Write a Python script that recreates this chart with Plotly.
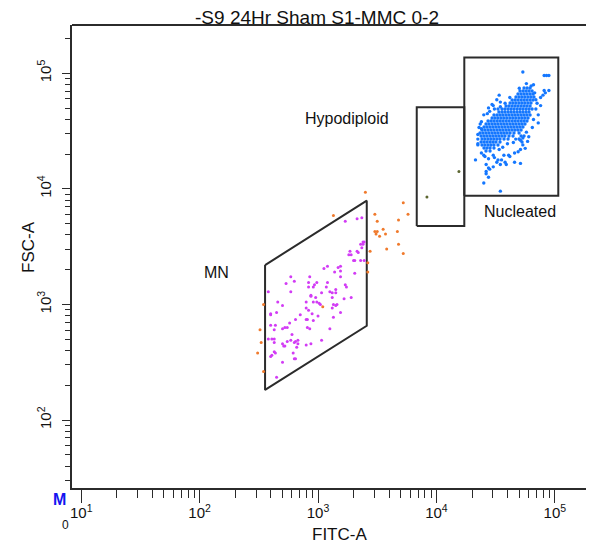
import plotly.graph_objects as go

# ---------------- data ----------------
TITLE = "-S9 24Hr Sham S1-MMC 0-2"
X_LABEL = "FITC-A"
Y_LABEL = "FSC-A"

# Gate vertices (FITC-A, FSC-A)
mn_gate_x = [357, 2580, 2580, 357, 357]
mn_gate_y = [2190, 7890, 654, 182, 2190]
hypo_gate_x = [6820, 17200, 17200, 6820, 6820]
hypo_gate_y = [4770, 4770, 50700, 50700, 4770]
nuc_gate_x = [17200, 107000, 107000, 17200, 17200]
nuc_gate_y = [8710, 8710, 137000, 137000, 8710]

gate_labels = ["Hypodiploid", "Nucleated", "MN"]

# Events, stored as log10 of the channel values
mn_log_x = [3.23, 3.33, 3.37, 3.38, 3.39, 3.36, 3.38, 3.37, 3.33, 3.34, 3.27, 3.26, 3.28, 3.30, 3.31,
            3.36, 3.39, 3.08, 3.17, 3.19, 3.14, 3.19, 3.05, 3.31, 3.19, 2.77, 2.80, 2.73, 2.93, 3.08,
            2.99, 2.97, 2.92, 2.96, 2.77, 3.07, 3.10, 3.15, 3.12, 3.23, 3.24, 2.58, 2.94, 2.94, 3.03,
            2.98, 3.12, 3.28, 3.22, 2.66, 2.70, 2.90, 2.96, 2.99, 3.01, 3.02, 3.13, 3.16, 3.15, 2.90,
            2.92, 3.12, 2.60, 2.60, 2.65, 2.85, 2.95, 3.00, 3.19, 2.81, 2.90, 2.91, 3.13, 2.60, 2.64,
            2.76, 2.91, 3.10, 2.63, 2.70, 2.72, 2.74, 2.78, 2.58, 2.61, 2.63, 2.63, 2.70, 2.71, 2.72,
            2.74, 2.77, 2.81, 2.83, 2.80, 2.83, 2.90, 2.94, 3.03, 2.63, 2.64, 2.61, 2.60, 2.79, 2.80,
            2.81, 2.70, 2.65, 2.96, 2.93, 2.82, 2.92, 3.15]
mn_log_y = [3.72, 3.74, 3.75, 3.54, 3.54, 3.52, 3.52, 3.49, 3.46, 3.45, 3.46, 3.43, 3.43, 3.38, 3.38,
            3.38, 3.38, 3.33, 3.32, 3.33, 3.28, 3.29, 3.31, 3.27, 3.24, 3.24, 3.20, 3.18, 3.24, 3.19,
            3.19, 3.17, 3.15, 3.15, 3.11, 3.15, 3.11, 3.13, 3.10, 3.17, 3.15, 3.11, 3.08, 3.07, 3.10,
            3.06, 3.06, 3.06, 3.05, 3.02, 2.99, 3.02, 3.02, 3.02, 3.01, 3.00, 3.00, 3.00, 2.99, 2.97,
            2.95, 2.97, 2.92, 2.91, 2.93, 2.91, 2.92, 2.90, 2.93, 2.87, 2.87, 2.87, 2.89, 2.82, 2.82,
            2.84, 2.80, 2.79, 2.78, 2.79, 2.80, 2.80, 2.74, 2.70, 2.70, 2.67, 2.70, 2.66, 2.64, 2.64,
            2.68, 2.69, 2.68, 2.69, 2.67, 2.66, 2.65, 2.66, 2.69, 2.59, 2.58, 2.56, 2.55, 2.58, 2.53,
            2.53, 2.50, 2.37, 2.86, 2.79, 2.63, 3.19, 3.10]

other_log_x = [3.40, 3.13, 3.48, 3.72, 3.76, 3.50, 3.68, 3.55, 3.48, 3.50, 3.49, 3.57, 3.52, 3.67,
               3.58, 3.68, 3.72, 3.44, 3.42, 3.42, 2.54, 2.51, 2.52, 2.49, 2.54, 3.04]
other_log_y = [3.97, 3.77, 3.78, 3.88, 3.78, 3.72, 3.73, 3.65, 3.63, 3.63, 3.61, 3.61, 3.59, 3.63,
               3.48, 3.52, 3.44, 3.46, 3.36, 3.28, 3.00, 2.78, 2.67, 2.58, 2.42, 2.98]

hypo_log_x = [4.19, 3.92]
hypo_log_y = [4.15, 3.93]

nuc_log_x = [
    4.740, 4.766, 4.791,
    4.706, 4.732, 4.757, 4.782, 4.808,
    4.689, 4.715, 4.740, 4.765, 4.791, 4.816,
    4.672, 4.698, 4.723, 4.748, 4.774, 4.799, 4.824,
    4.639, 4.664, 4.689, 4.715, 4.740, 4.765, 4.791, 4.816,
    4.622, 4.647, 4.672, 4.698, 4.723, 4.748, 4.774, 4.799,
    4.588, 4.613, 4.639, 4.664, 4.689, 4.715, 4.740, 4.765, 4.791,
    4.554, 4.579, 4.605, 4.630, 4.655, 4.681, 4.706, 4.731, 4.757, 4.782, 4.808,
    4.528, 4.554, 4.579, 4.605, 4.630, 4.655, 4.681, 4.706, 4.731, 4.757, 4.782,
    4.486, 4.512, 4.537, 4.562, 4.588, 4.613, 4.639, 4.664, 4.689, 4.715, 4.740, 4.765, 4.791,
    4.470, 4.495, 4.520, 4.546, 4.571, 4.596, 4.622, 4.647, 4.672, 4.698, 4.723, 4.748, 4.774,
    4.436, 4.461, 4.486, 4.512, 4.537, 4.562, 4.588, 4.613, 4.639, 4.664, 4.689, 4.715, 4.740, 4.765,
    4.419, 4.444, 4.470, 4.495, 4.520, 4.546, 4.571, 4.596, 4.622, 4.647, 4.672, 4.698, 4.723, 4.748,
    4.402, 4.427, 4.453, 4.478, 4.503, 4.528, 4.554, 4.579, 4.605, 4.630, 4.655, 4.681, 4.706, 4.731,
    4.385, 4.410, 4.436, 4.461, 4.486, 4.512, 4.537, 4.562, 4.588, 4.613, 4.639, 4.664, 4.689, 4.715,
    4.368, 4.393, 4.419, 4.444, 4.470, 4.495, 4.520, 4.546, 4.571, 4.596, 4.622, 4.655, 4.698,
    4.377, 4.402, 4.427, 4.453, 4.478, 4.503, 4.528, 4.554, 4.579, 4.613, 4.647, 4.715, 4.740,
    4.385, 4.410, 4.436, 4.461, 4.486, 4.512, 4.537, 4.571, 4.605, 4.698,
    4.377, 4.402, 4.427, 4.453, 4.478, 4.503, 4.537, 4.723,
    4.385, 4.410, 4.436, 4.461, 4.486, 4.520,
    4.402, 4.427, 4.453, 4.486,
    4.419, 4.453,
    # scattered events
    4.73, 4.91, 4.93, 4.95, 4.91, 4.92, 4.90, 4.95, 4.83, 4.80, 4.82, 4.85, 4.84, 4.86, 4.86, 4.84,
    4.76, 4.78, 4.75, 4.71, 4.73, 4.71, 4.73, 4.53, 4.51, 4.54, 4.48, 4.44, 4.45, 4.40, 4.37, 4.36,
    4.35, 4.33, 4.35, 4.38, 4.40, 4.41, 4.44, 4.49, 4.51, 4.57, 4.61, 4.58, 4.66, 4.69, 4.71, 4.42,
    4.44, 4.48, 4.42, 4.44, 4.42, 4.40, 4.54, 4.45, 4.52, 4.62, 4.66, 4.59, 4.54, 4.52, 4.38, 4.47,
    4.43, 4.38, 4.55, 4.48, 4.62, 4.58, 4.54, 4.81, 4.82, 4.35, 4.35, 4.53, 4.56, 4.60, 4.65, 4.67,
    4.77, 4.49, 4.76, 4.70, 4.88, 4.88,
]
nuc_log_y = (
    [4.872] * 3 + [4.846] * 5 + [4.820] * 6 + [4.794] * 7 + [4.768] * 8 + [4.742] * 8 + [4.716] * 9
    + [4.690] * 11 + [4.664] * 11 + [4.638] * 13 + [4.612] * 13 + [4.587] * 14 + [4.561] * 14
    + [4.535] * 14 + [4.509] * 14 + [4.483] * 13 + [4.457] * 13 + [4.431] * 10 + [4.405] * 8
    + [4.379] * 6 + [4.353] * 4 + [4.327] * 2
    + [5.01, 4.98, 4.98, 4.98, 4.85, 4.83, 4.81, 4.85, 4.83, 4.89, 4.90, 4.74, 4.69, 4.64, 4.57, 4.77,
       4.49, 4.45, 4.35, 4.34, 4.38, 4.42, 4.44, 4.81, 4.77, 4.75, 4.72, 4.70, 4.67, 4.64, 4.56, 4.53,
       4.39, 4.25, 4.38, 4.31, 4.29, 4.28, 4.26, 4.27, 4.23, 4.29, 4.29, 4.23, 4.31, 4.32, 4.22, 4.21,
       4.18, 4.19, 4.15, 4.10, 4.13, 4.05, 3.98, 4.17, 4.25, 4.28, 4.23, 4.21, 4.21, 4.69, 4.58, 4.73,
       4.65, 4.52, 4.25, 4.29, 4.79, 4.74, 4.71, 4.53, 4.60, 4.47, 4.43, 4.34, 4.36, 4.39, 4.40, 4.43,
       4.41, 4.69, 4.91, 4.87, 4.72, 4.79]
)

x_major = [10, 100, 1000, 10000, 100000]
x_major_text = ["10<sup>1</sup>", "10<sup>2</sup>", "10<sup>3</sup>", "10<sup>4</sup>", "10<sup>5</sup>"]
y_major = [100, 1000, 10000, 100000]
y_major_text = ["10<sup>2</sup>", "10<sup>3</sup>", "10<sup>4</sup>", "10<sup>5</sup>"]
x_minor = [m * 10 ** e for e in range(1, 5) for m in range(2, 10)] + [200000]
y_minor = [30, 40, 50, 60, 70, 80, 90] + [m * 10 ** e for e in range(2, 5) for m in range(2, 10)] + [200000]


def unlog(vals):
    return [10 ** v for v in vals]


# ---------------- figure ----------------
FONT = "Liberation Sans, Arial, sans-serif"
LINE = "#2b2b2b"
TXT = "#111111"
fig = go.Figure()

for gx, gy in [(mn_gate_x, mn_gate_y), (hypo_gate_x, hypo_gate_y), (nuc_gate_x, nuc_gate_y)]:
    fig.add_trace(go.Scatter(x=gx, y=gy, mode="lines",
                             line=dict(color=LINE, width=2), hoverinfo="skip"))

fig.add_trace(go.Scatter(x=unlog(other_log_x), y=unlog(other_log_y), mode="markers",
                         marker=dict(color="#F07A2C", size=3, line=dict(width=0))))
fig.add_trace(go.Scatter(x=unlog(hypo_log_x), y=unlog(hypo_log_y), mode="markers",
                         marker=dict(color="#5C6630", size=3, line=dict(width=0))))
fig.add_trace(go.Scatter(x=unlog(mn_log_x), y=unlog(mn_log_y), mode="markers",
                         marker=dict(color="#D23CF5", size=3, line=dict(width=0))))
fig.add_trace(go.Scatter(x=unlog(nuc_log_x), y=unlog(nuc_log_y), mode="markers",
                         marker=dict(color="#1477FF", size=3.4, line=dict(width=0))))

axis_common = dict(type="log", showgrid=False, zeroline=False, showline=True,
                   linecolor=LINE, linewidth=2, ticks="outside", tickcolor=LINE,
                   tickwidth=1, tickfont=dict(family=FONT, size=15, color=TXT),
                   automargin=False)

fig.update_xaxes(**axis_common, range=[0.922, 5.331], tickmode="array",
                 tickvals=x_major, ticktext=x_major_text, ticklen=13,
                 ticklabelstandoff=-3,
                 minor=dict(tickmode="array", tickvals=x_minor, ticks="outside",
                            ticklen=8, tickcolor=LINE, tickwidth=1, showgrid=False))
fig.update_yaxes(**axis_common, range=[1.412, 5.417], tickmode="array",
                 tickvals=y_major, ticktext=y_major_text, ticklen=8, tickangle=-90,
                 ticklabelstandoff=5,
                 minor=dict(tickmode="array", tickvals=y_minor, ticks="outside",
                            ticklen=5, tickcolor=LINE, tickwidth=1, showgrid=False))

# top frame line
fig.add_shape(type="line", xref="paper", yref="paper", x0=0, x1=1, y0=1, y1=1,
              line=dict(color=LINE, width=2))


def label(text, x, y, size, color=TXT, angle=0):
    fig.add_annotation(text=text, xref="paper", yref="paper", x=x, y=y,
                       xanchor="center", yanchor="middle", showarrow=False,
                       textangle=angle, font=dict(family=FONT, size=size, color=color))


label(gate_labels[0], 0.5268, 0.797, 16)
label(gate_labels[1], 0.858, 0.598, 16)
label(gate_labels[2], 0.276, 0.4665, 16)
label(X_LABEL, 0.5115, -0.1015, 17)
label(Y_LABEL, -0.0843, 0.5205, 17, angle=-90)
label("<b>M</b>", -0.0249, -0.0259, 16, color="#1414F0")
label("0", -0.0115, -0.080, 12)

# the page adds an 8px body margin; the figure is sized so the plot lands where the
# reference has it and runs to the right edge of the window
fig.update_layout(
    width=586, height=537,
    margin=dict(l=64, r=0, t=17, b=57),
    paper_bgcolor="white", plot_bgcolor="white",
    showlegend=False, hovermode=False,
    title=dict(text=TITLE, x=(317 - 8) / 586, xref="container", xanchor="center",
               y=1 - (17 - 8) / 537, yref="container", yanchor="middle",
               font=dict(family=FONT, size=19, color=TXT)),
)

fig.write_html("out.html")
